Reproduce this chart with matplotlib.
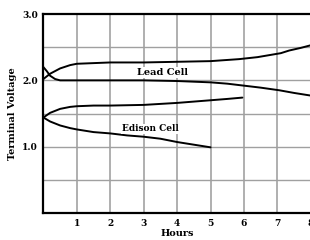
import matplotlib
matplotlib.use('Agg')
import matplotlib.pyplot as plt

# curves (hours, volts)
lead_charge_h = [0.0, 0.2, 0.5, 0.8, 1.0, 1.5, 2.0, 3.0, 4.0, 5.0, 5.85, 6.4, 6.75, 7.1, 7.35, 7.7, 8.0]
lead_charge_v = [2.02, 2.10, 2.18, 2.23, 2.25, 2.26, 2.27, 2.27, 2.28, 2.29, 2.32, 2.35, 2.38, 2.41, 2.45, 2.49, 2.53]

lead_disch_h = [0.0, 0.1, 0.2, 0.35, 0.5, 1.0, 2.0, 3.0, 4.0, 5.0, 5.5, 6.0, 6.5, 7.06, 7.5, 8.0]
lead_disch_v = [2.20, 2.14, 2.07, 2.02, 2.00, 2.00, 2.00, 2.00, 1.99, 1.97, 1.95, 1.92, 1.89, 1.85, 1.81, 1.77]

edison_charge_h = [0.0, 0.2, 0.5, 0.8, 1.0, 1.5, 2.0, 3.0, 4.0, 4.5, 5.0, 5.5, 5.95]
edison_charge_v = [1.44, 1.51, 1.57, 1.60, 1.61, 1.62, 1.62, 1.63, 1.66, 1.68, 1.70, 1.72, 1.74]

edison_disch_h = [0.0, 0.2, 0.5, 0.8, 1.0, 1.5, 2.0, 2.5, 3.0, 3.5, 4.0, 4.5, 5.0]
edison_disch_v = [1.44, 1.38, 1.32, 1.28, 1.26, 1.22, 1.20, 1.17, 1.15, 1.12, 1.07, 1.03, 0.99]

x_ticks = [1, 2, 3, 4, 5, 6, 7, 8]
y_ticks = [1.0, 2.0, 3.0]

font = {'family': 'DejaVu Serif', 'weight': 'bold'}

fig = plt.figure(figsize=(3.1, 2.4), dpi=100)
ax = fig.add_axes([0.140, 0.1125, 0.863, 0.829])
ax.set_xlim(0, 8)
ax.set_ylim(0, 3.0)

# grid every hour and every half volt
for h in range(1, 8):
    ax.axvline(h, color='#9a9a9a', lw=1.1, zorder=1)
for v in [0.5, 1.0, 1.5, 2.0, 2.5]:
    ax.axhline(v, color='#a0a0a0', lw=1.0, zorder=1)

for xs, ys in [(lead_charge_h, lead_charge_v), (lead_disch_h, lead_disch_v),
               (edison_charge_h, edison_charge_v), (edison_disch_h, edison_disch_v)]:
    ax.plot(xs, ys, color='black', lw=1.4, solid_capstyle='round', zorder=3)

ax.text(3.57, 2.12, 'Lead Cell', ha='center', va='center', fontsize=7, zorder=4,
        bbox=dict(facecolor='white', edgecolor='none', pad=0.5), **font)
ax.text(3.2, 1.27, 'Edison Cell', ha='center', va='center', fontsize=6.5, zorder=4,
        bbox=dict(facecolor='white', edgecolor='none', pad=0.5), **font)

ax.set_xticks(x_ticks)
ax.set_xticklabels([str(t) for t in x_ticks], fontsize=6.5, **font)
ax.set_yticks(y_ticks)
ax.set_yticklabels(['%.1f' % t for t in y_ticks], fontsize=6.5, **font)
ax.tick_params(length=0, pad=4)

for side in ['left', 'bottom', 'top']:
    ax.spines[side].set_linewidth(1.6)
ax.spines['right'].set_visible(False)

ax.set_xlabel('Hours', fontsize=7, labelpad=1, **font)
ax.set_ylabel('Terminal Voltage', fontsize=7, labelpad=4, **font)

fig.savefig('out.png', dpi=100)
